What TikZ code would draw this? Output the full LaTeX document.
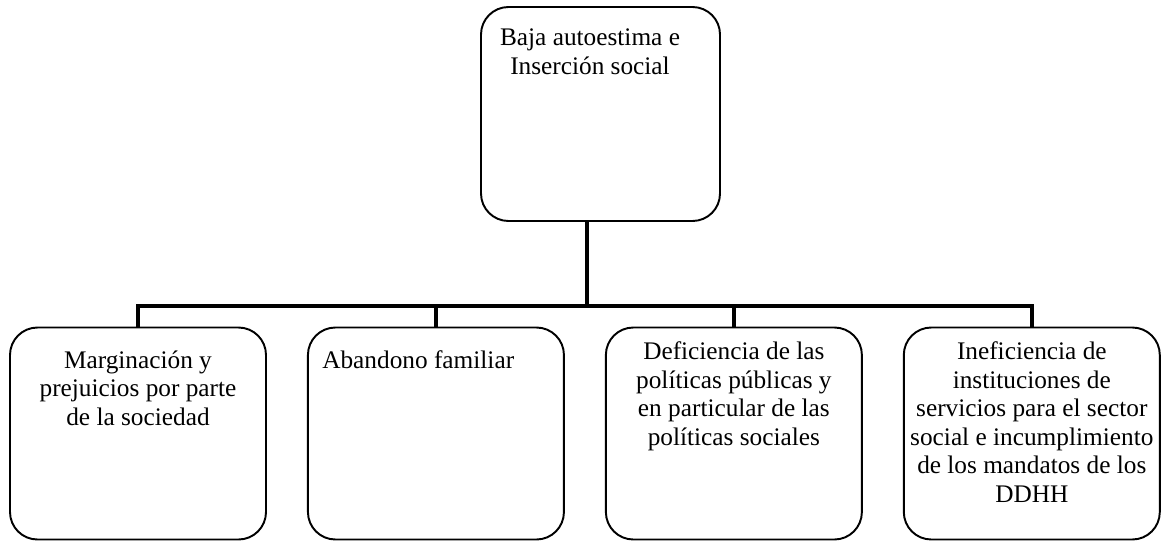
\documentclass[tikz,border=0pt]{standalone}
\usepackage{fontspec}
\setmainfont{Liberation Serif}
\usetikzlibrary{positioning}
\tikzset{
  caja/.style={draw, line width=1.1pt, rounded corners=0.55cm, minimum width=5.12cm, minimum height=4.24cm},
  texto/.style={anchor=north, align=center, inner sep=0pt, font=\fontsize{14.4}{16.2}\selectfont},
  rama/.style={line width=2.6pt}
}

\begin{document}
\begin{tikzpicture}
  \useasboundingbox (0,0) rectangle (23.22,10.84);

  % problema central
  \node[caja, minimum width=4.78cm, minimum height=4.28cm] (raiz) at (12.01,8.56) {};
  \node[texto] (traiz) at (11.8,10.27) {Baja autoestima e\\Inserción social};

  % causas
  \node[caja] (c1) at (2.76,2.17) {};
  \node[caja, right=0.8cm of c1] (c2) {};
  \node[caja, right=0.8cm of c2] (c3) {};
  \node[caja, right=0.8cm of c3] (c4) {};

  \node[texto] (t1) at ([yshift=-0.48cm]c1.north) {Marginación y\\prejuicios por parte\\de la sociedad};
  \node[texto, anchor=north west] (t2) at ([xshift=0.3cm, yshift=-0.48cm]c2.north west) {Abandono familiar};
  \node[texto] (t3) at ([yshift=-0.3cm]c3.north) {Deficiencia de las\\políticas públicas y\\en particular de las\\políticas sociales};
  \node[texto] (t4) at ([yshift=-0.3cm]c4.north) {Ineficiencia de\\instituciones de\\servicios para el sector\\social e incumplimiento\\de los mandatos de los\\DDHH};

  % conectores
  \coordinate (union) at (11.74,4.72);
  \draw[rama] (raiz.south -| union) -- (union);
  \draw[rama] (c1.north) -- (c1.north |- union) -- (c4.north |- union) -- (c4.north);
  \foreach \c in {c2,c3}
    \draw[rama] (\c.north |- union) -- (\c.north);
\end{tikzpicture}
\end{document}
